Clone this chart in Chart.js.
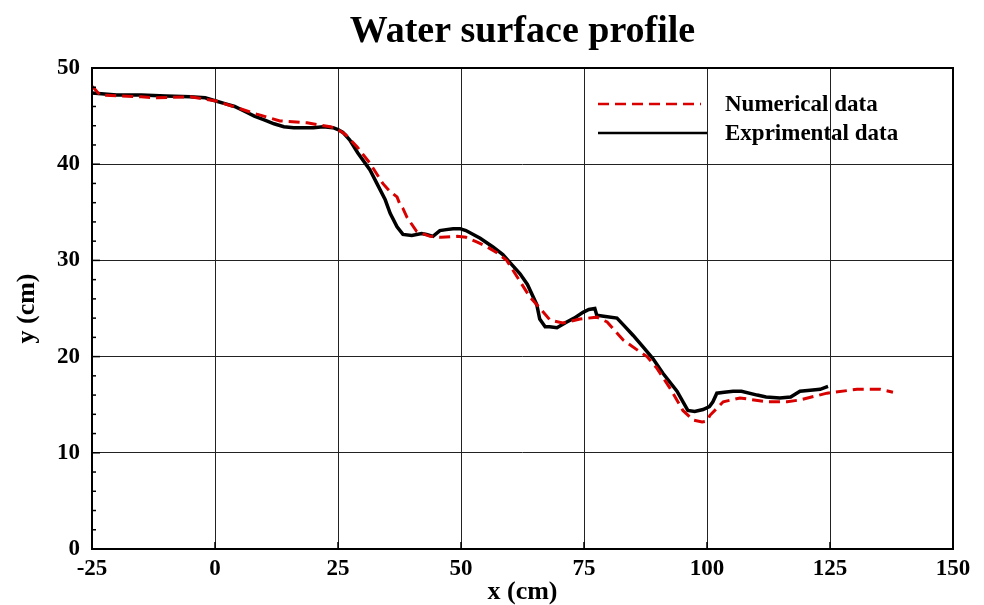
<!DOCTYPE html>
<html>
<head>
<meta charset="utf-8">
<script src="https://cdn.jsdelivr.net/npm/chart.js@4"></script>
<style>
  body { margin: 0; background: #fff; }
</style>
</head>
<body>
<canvas id="profileChart" width="984" height="605"></canvas>
<script>
// experimental water surface (cm)
const expX = [-25, -20, -15, -10, -5, -2, 0, 2, 4, 6, 8, 10, 12, 14, 16, 18, 20, 22, 24, 25,
  26, 27.4, 29, 31.5, 33, 34.6, 35.6, 37, 38.2, 40, 42, 43, 44.3, 45.7, 47, 48.4, 49.8, 51, 53.9, 56.5,
  58.5, 60.6, 62, 63.5, 65.4, 66, 67.1, 68, 69.5, 71.5, 73, 74.8, 76, 77.2, 77.6, 79, 81.7, 83, 85, 87,
  89, 91, 93.9, 96.1, 97.5, 99.2, 100.5, 101.2, 102, 103.5, 105.3, 107, 110.2, 112, 114.8, 117, 118.9, 121, 123, 124.6];
const expY = [47.4, 47.2, 47.2, 47.1, 47.0, 46.9, 46.6, 46.3, 46.0, 45.5, 45.0, 44.6, 44.2, 43.9, 43.8, 43.8, 43.8, 43.9, 43.8, 43.6,
  43.3, 42.5, 41.2, 39.4, 37.9, 36.3, 34.9, 33.5, 32.7, 32.6, 32.8, 32.7, 32.5, 33.1, 33.2, 33.3, 33.3, 33.1, 32.3, 31.4,
  30.6, 29.4, 28.6, 27.5, 25.4, 23.9, 23.1, 23.1, 23.0, 23.6, 24.0, 24.6, 24.9, 25.0, 24.3, 24.2, 24.0, 23.3, 22.2, 21.0,
  19.8, 18.3, 16.4, 14.4, 14.3, 14.5, 14.8, 15.3, 16.2, 16.3, 16.4, 16.4, 16.0, 15.8, 15.7, 15.8, 16.4, 16.5, 16.6, 16.9];

// numerical water surface (cm)
const numX = [-25, -24.4, -23.4, -20, -15, -11.8, -5, 0, 3.7, 8.5, 13.2, 18.7, 23.4, 25, 26.5, 28.9, 31.5, 34.1, 35.5, 37,
  37.6, 38.2, 39, 41, 43.7, 46, 49.2, 51, 53.3, 55, 57.3, 59.3, 61.4, 64, 66.1, 68.1, 70.7, 74.2, 77.6, 79.7,
  83, 85.8, 87.8, 89.8, 92.5, 95.1, 97.2, 99, 100, 100.6, 103.3, 106.7, 112.2, 116.3, 118.9, 124.4, 130.5, 135.2, 137.8];
const numY = [48.1, 47.8, 47.2, 47.1, 47.0, 46.9, 47.0, 46.6, 46.0, 45.2, 44.5, 44.3, 43.9, 43.6, 43.1, 41.8, 40.1, 38.0, 37.2, 36.6,
  35.8, 35.4, 34.5, 33.0, 32.5, 32.4, 32.5, 32.4, 31.9, 31.5, 30.8, 30.0, 28.3, 26.2, 25.0, 23.8, 23.5, 23.9, 24.1, 23.6,
  21.7, 20.7, 20.0, 18.8, 16.7, 14.4, 13.4, 13.2, 13.3, 13.9, 15.3, 15.7, 15.3, 15.3, 15.5, 16.2, 16.6, 16.6, 16.3];

const xTicks = [-25, 0, 25, 50, 75, 100, 125, 150];
const yTicks = [0, 10, 20, 30, 40, 50];
const seriesNames = ["Numerical data", "Exprimental data"];
const chartTitle = "Water surface profile";

const FONT = "'Liberation Serif', 'Times New Roman', serif";

function zip(xs, ys) {
  return xs.map((x, i) => ({ x: x, y: ys[i] }));
}

// box around the plot + inward tick marks + title centred over the plot
const framePlugin = {
  id: "frame",
  afterDraw(chart) {
    const { ctx, chartArea } = chart;
    const xs = chart.scales.x;
    const ys = chart.scales.y;
    ctx.save();
    ctx.strokeStyle = "#000";
    ctx.lineWidth = 1.5;
    xTicks.forEach((v) => {
      const px = xs.getPixelForValue(v);
      ctx.beginPath();
      ctx.moveTo(px, chartArea.bottom);
      ctx.lineTo(px, chartArea.bottom - 7);
      ctx.stroke();
    });
    for (let v = 0; v <= 50; v += 2) {
      const py = ys.getPixelForValue(v);
      const len = v % 10 === 0 ? 8 : 4;
      ctx.beginPath();
      ctx.moveTo(chartArea.left, py);
      ctx.lineTo(chartArea.left + len, py);
      ctx.stroke();
    }
    ctx.lineWidth = 2;
    ctx.strokeRect(chartArea.left, chartArea.top, chartArea.right - chartArea.left, chartArea.bottom - chartArea.top);

    ctx.fillStyle = "#000";
    ctx.font = "bold 38px " + FONT;
    ctx.textAlign = "center";
    ctx.textBaseline = "middle";
    ctx.fillText(chartTitle, (chartArea.left + chartArea.right) / 2, 32);
    ctx.restore();
  }
};

// legend drawn inside the plot, top right
const legendPlugin = {
  id: "innerLegend",
  afterDraw(chart) {
    const { ctx } = chart;
    const rows = [104, 133];
    ctx.save();
    chart.data.datasets.forEach((ds, i) => {
      const y = rows[i];
      ctx.strokeStyle = ds.borderColor;
      ctx.lineWidth = Math.min(ds.borderWidth, 2.5);
      ctx.setLineDash(ds.borderDash || []);
      ctx.beginPath();
      ctx.moveTo(598, y);
      ctx.lineTo(i === 0 ? 701 : 707, y);
      ctx.stroke();
      ctx.setLineDash([]);
      ctx.fillStyle = "#000";
      ctx.font = "bold 23px " + FONT;
      ctx.textBaseline = "middle";
      ctx.fillText(ds.label, 725, y + 1);
    });
    ctx.restore();
  }
};

const ctx = document.getElementById("profileChart").getContext("2d");

new Chart(ctx, {
  type: "line",
  data: {
    datasets: [
      {
        label: seriesNames[0],
        data: zip(numX, numY),
        borderColor: "#d90000",
        borderWidth: 3,
        borderDash: [11, 6],
        pointRadius: 0,
        tension: 0,
      },
      {
        label: seriesNames[1],
        data: zip(expX, expY),
        borderColor: "#000000",
        borderWidth: 3.5,
        pointRadius: 0,
        tension: 0,
      },
    ],
  },
  options: {
    responsive: false,
    animation: false,
    layout: { padding: { left: 0, right: 31, top: 68, bottom: 0 } },
    plugins: {
      legend: { display: false },
      tooltip: { enabled: false },
      title: { display: false },
    },
    scales: {
      x: {
        type: "linear",
        min: -25,
        max: 150,
        afterBuildTicks: (scale) => { scale.ticks = xTicks.map((v) => ({ value: v })); },
        afterFit: (scale) => { scale.height = 56; },
        ticks: {
          color: "#000",
          padding: 6,
          maxRotation: 0,
          font: { family: FONT, size: 23, weight: "bold" },
        },
        grid: { color: "#222", lineWidth: 1, drawTicks: false },
        border: { display: false },
        title: {
          display: true,
          text: "x (cm)",
          color: "#000",
          padding: { top: 0, bottom: -3 },
          font: { family: FONT, size: 26, weight: "bold" },
        },
      },
      y: {
        type: "linear",
        min: 0,
        max: 50,
        afterBuildTicks: (scale) => { scale.ticks = yTicks.map((v) => ({ value: v })); },
        afterFit: (scale) => { scale.width = 92; },
        ticks: {
          color: "#000",
          padding: 12,
          font: { family: FONT, size: 23, weight: "bold" },
        },
        grid: { color: "#222", lineWidth: 1, drawTicks: false },
        border: { display: false },
        title: {
          display: true,
          text: "y (cm)",
          color: "#000",
          padding: { top: 12, bottom: 0 },
          font: { family: FONT, size: 26, weight: "bold" },
        },
      },
    },
  },
  plugins: [framePlugin, legendPlugin],
});
</script>
</body>
</html>
